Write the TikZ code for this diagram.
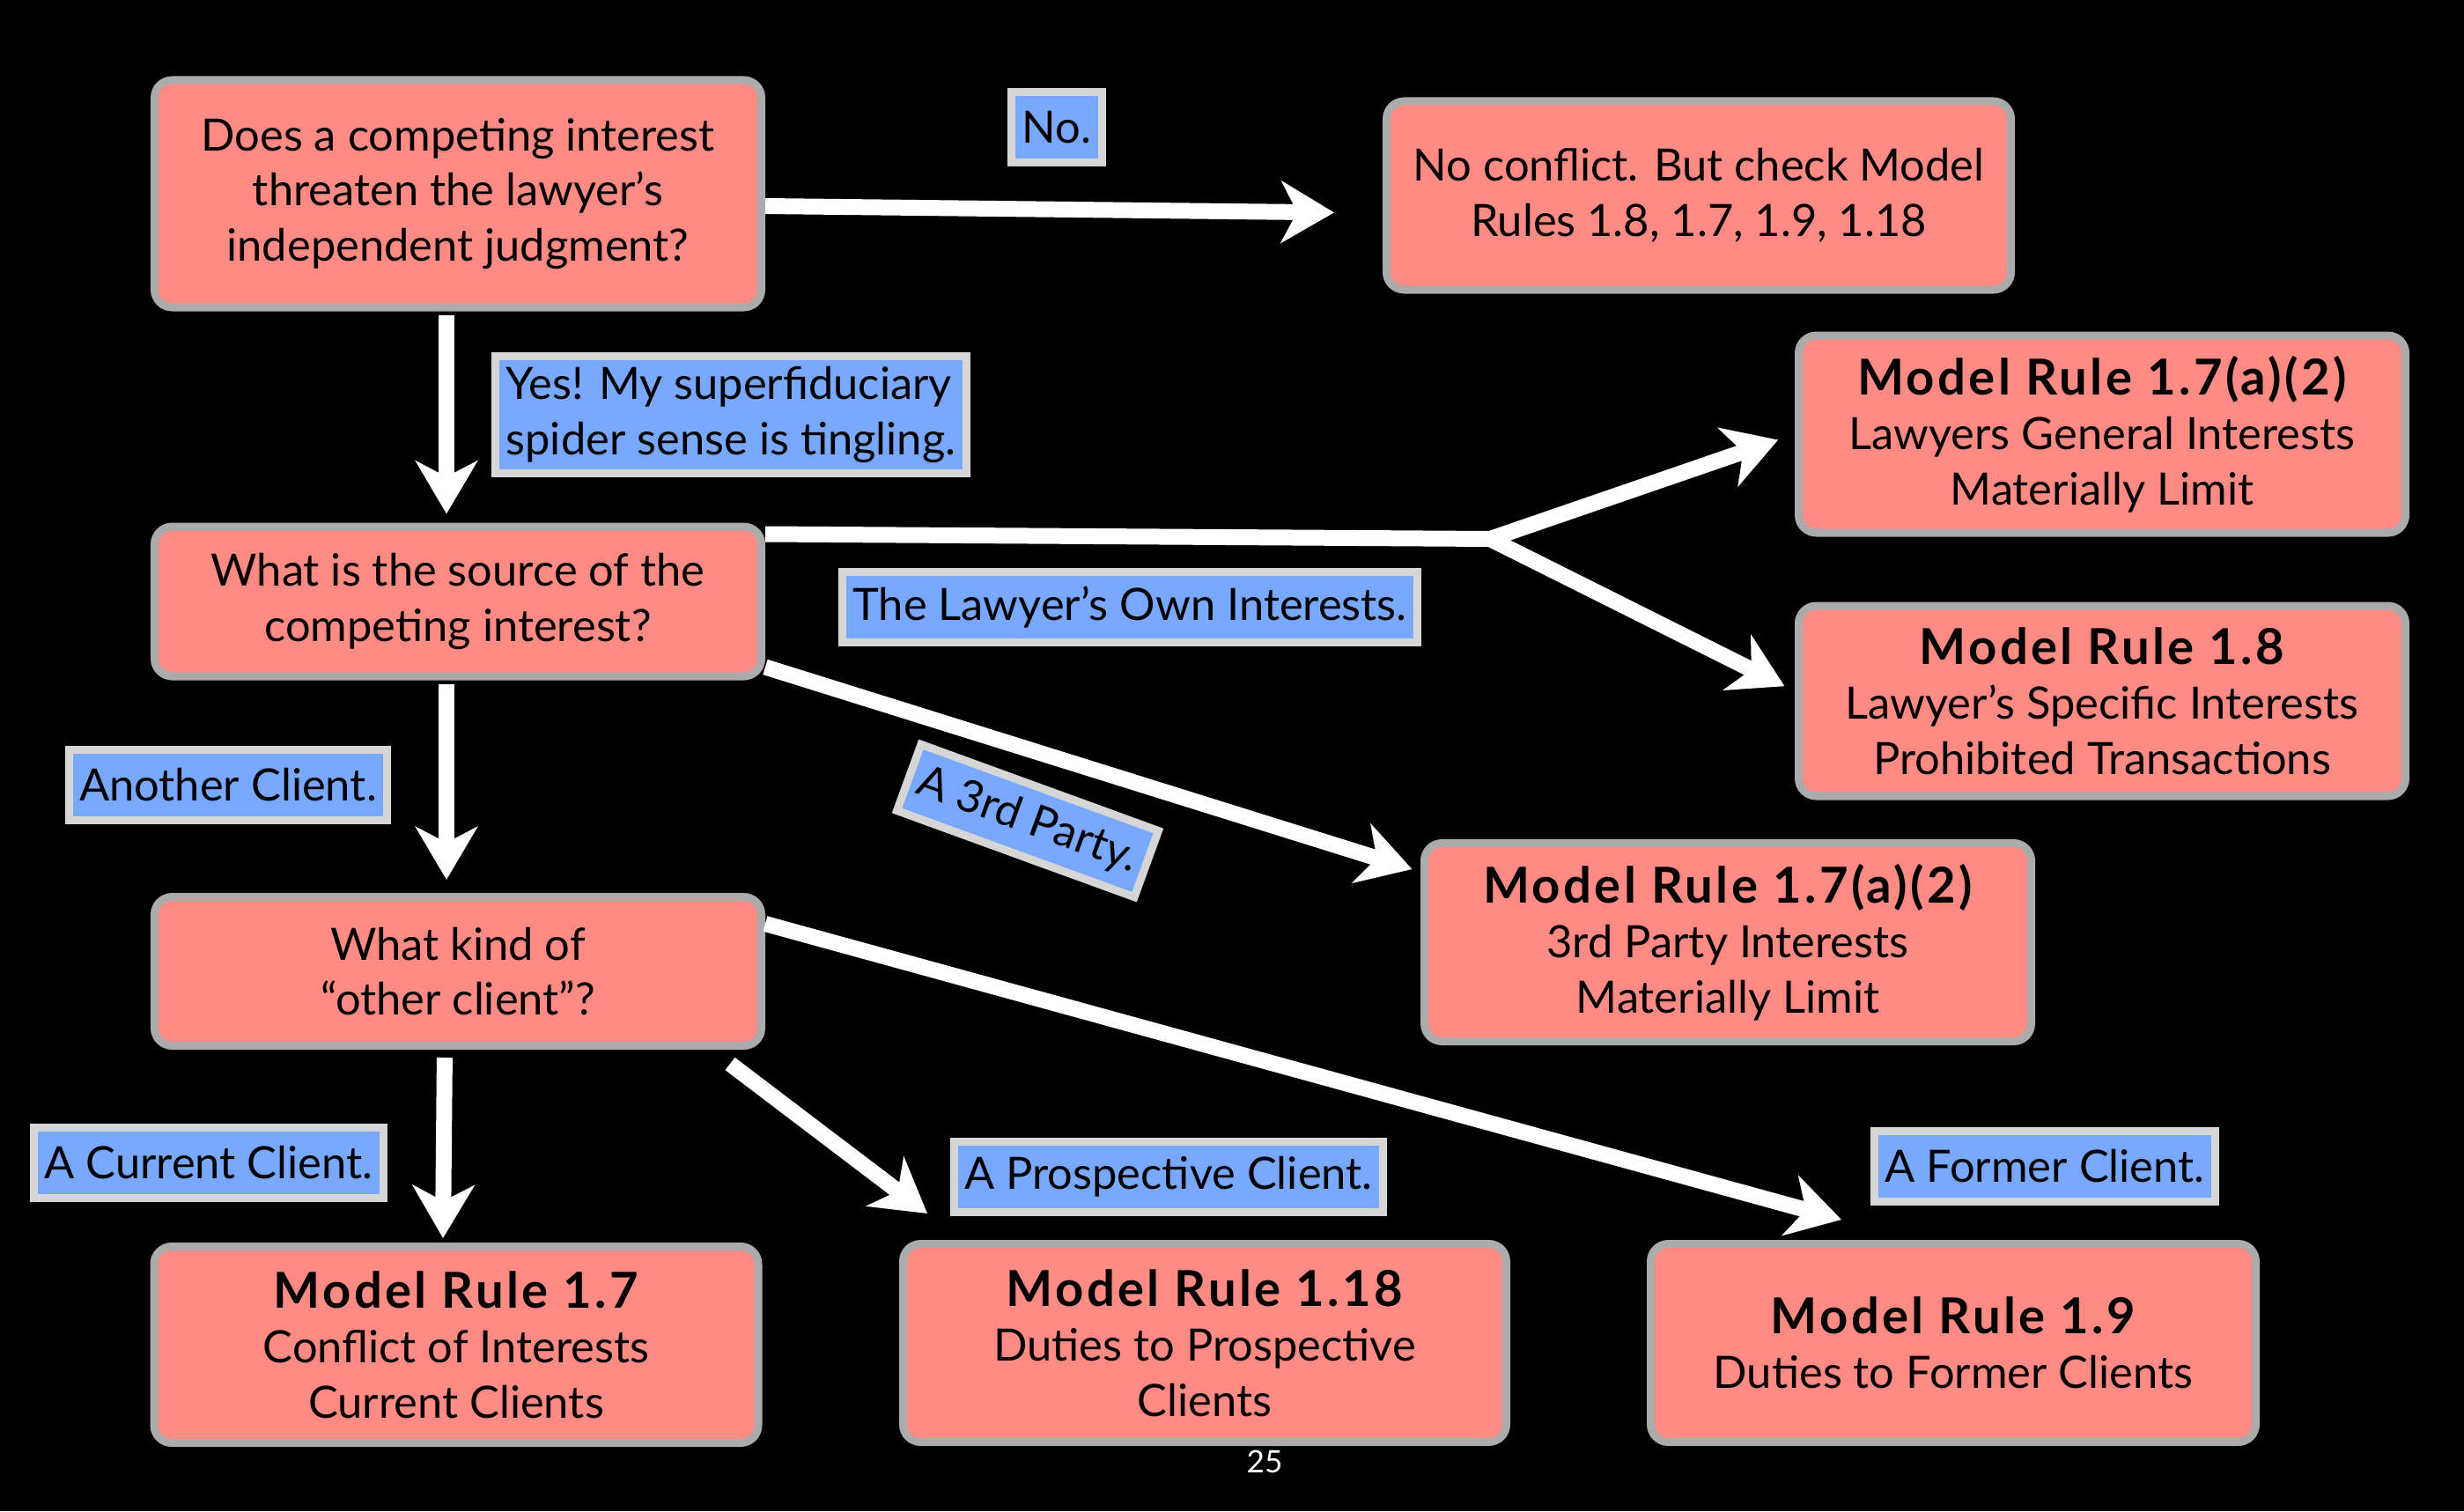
\documentclass[tikz,border=0pt]{standalone}
\usepackage{fontspec}
\setmainfont{Lato}
\usetikzlibrary{arrows.meta}
\definecolor{boxpink}{HTML}{FF8B84}
\definecolor{boxgray}{HTML}{ABABAB}
\definecolor{tagblue}{HTML}{78A8FF}
\definecolor{taggray}{HTML}{D6D6D6}
\newcommand{\ruletitle}[1]{{\bfseries\fontsize{16}{17.8}\selectfont\addfontfeature{LetterSpace=6}#1}}

\begin{document}
\begin{tikzpicture}[
  box/.style={draw=boxgray, fill=boxpink, line width=0.09cm, rounded corners=0.2cm,
    minimum width=6.89cm, align=center, font=\fontsize{14.4}{17.8}\selectfont},
  tag/.style={draw=taggray, fill=tagblue, line width=0.09cm, inner xsep=0.12cm,
    minimum height=0.8cm, font=\fontsize{14.4}{17.8}\selectfont},
  arr/.style={white, line width=0.18cm, -{Stealth[length=0.6cm,width=0.7cm,inset=0.18cm]}},
  ]
% background
\fill[black] (0,0) rectangle (27.98,17.16);
\useasboundingbox (0,0) rectangle (27.98,17.16);
% questions
\node[box, minimum height=2.58cm] (q1) at (5.20,14.96) {Does a competing interest\\threaten the lawyer’s\\independent judgment?};
\node[box, minimum height=1.70cm] (q2) at (5.20,10.33) {What is the source of the\\competing interest?};
\node[box, minimum height=1.69cm] (q3) at (5.20,6.13) {What kind of\\“other client”?};
% answers
\node[box, minimum width=7.09cm, minimum height=2.14cm] (noconf) at (19.29,14.94) {No conflict. But check Model\\Rules 1.8, 1.7, 1.9, 1.18};
\node[box, minimum height=2.24cm] (mrgen) at (23.87,12.23) {\ruletitle{Model Rule 1.7(a)(2)}\\Lawyers General Interests\\Materially Limit};
\node[box, minimum height=2.16cm] (mrspec) at (23.87,9.20) {\ruletitle{Model Rule 1.8}\\Lawyer’s Specific Interests\\Prohibited Transactions};
\node[box, minimum height=2.25cm] (mrthird) at (19.62,6.46) {\ruletitle{Model Rule 1.7(a)(2)}\\3rd Party Interests\\Materially Limit};
\node[box, minimum width=6.86cm, minimum height=2.23cm] (mrcur) at (5.18,1.89) {\ruletitle{Model Rule 1.7}\\Conflict of Interests\\Current Clients};
\node[box, minimum width=6.85cm, minimum height=2.25cm] (mrpros) at (13.68,1.91) {\ruletitle{Model Rule 1.18}\\Duties to Prospective\\Clients};
\node[box, minimum width=6.87cm, minimum height=2.25cm] (mrform) at (22.18,1.91) {\ruletitle{Model Rule 1.9}\\Duties to Former Clients};
% labels
\node[tag] (no) at (12.00,15.71) {No.};
\node[tag, align=left] (yes) at (8.30,12.45) {Yes! My superfiduciary\\spider sense is tingling.};
\node[tag] (own) at (12.83,10.27) {The Lawyer’s Own Interests.};
\node[tag, rotate=-20] (third) at (11.67,7.84) {A 3rd Party.};
\node[tag] (another) at (2.59,8.25) {Another Client.};
\node[tag] (current) at (2.37,3.96) {A Current Client.};
\node[tag] (pros) at (13.27,3.80) {A Prospective Client.};
\node[tag] (former) at (23.22,3.92) {A Former Client.};
% page number
\node[text=white, font=\fontsize{10}{12}\selectfont] (page) at (14.36,0.56) {25};
% arrows
\coordinate (fork) at (16.92,11.04);
\draw[arr, shorten >=0.55cm] ([yshift=-0.14cm]q1.east) -- ([yshift=-0.2cm]noconf.west);
\draw[arr, shorten <=0.04cm, shorten >=0.1cm] ([xshift=-0.13cm]q1.south) -- ([xshift=-0.13cm]q2.north);
\draw[white, line width=0.18cm] ([yshift=-0.13cm]q2.north east) -- (fork);
\draw[arr, shorten >=0.2cm] (fork) -- (mrgen.west);
\draw[arr, shorten >=0.13cm] (fork) -- ([yshift=0.11cm]mrspec.west);
\draw[arr, shorten >=0.1cm] ([yshift=0.15cm]q2.south east) -- ([yshift=0.8cm]mrthird.west);
\draw[arr, shorten <=0.04cm, shorten >=0.15cm] ([xshift=-0.13cm]q2.south) -- ([xshift=-0.13cm]q3.north);
\draw[arr, shorten <=0.09cm] ([xshift=-0.15cm]q3.south) -- ([xshift=-0.15cm,yshift=0.05cm]mrcur.north);
\draw[arr] ([xshift=-0.4cm,yshift=-0.16cm]q3.south east) -- ([xshift=0.32cm,yshift=0.3cm]mrpros.north west);
\draw[arr] ([yshift=0.54cm]q3.east) -- ([xshift=2.21cm,yshift=0.23cm]mrform.north west);
\end{tikzpicture}
\end{document}
